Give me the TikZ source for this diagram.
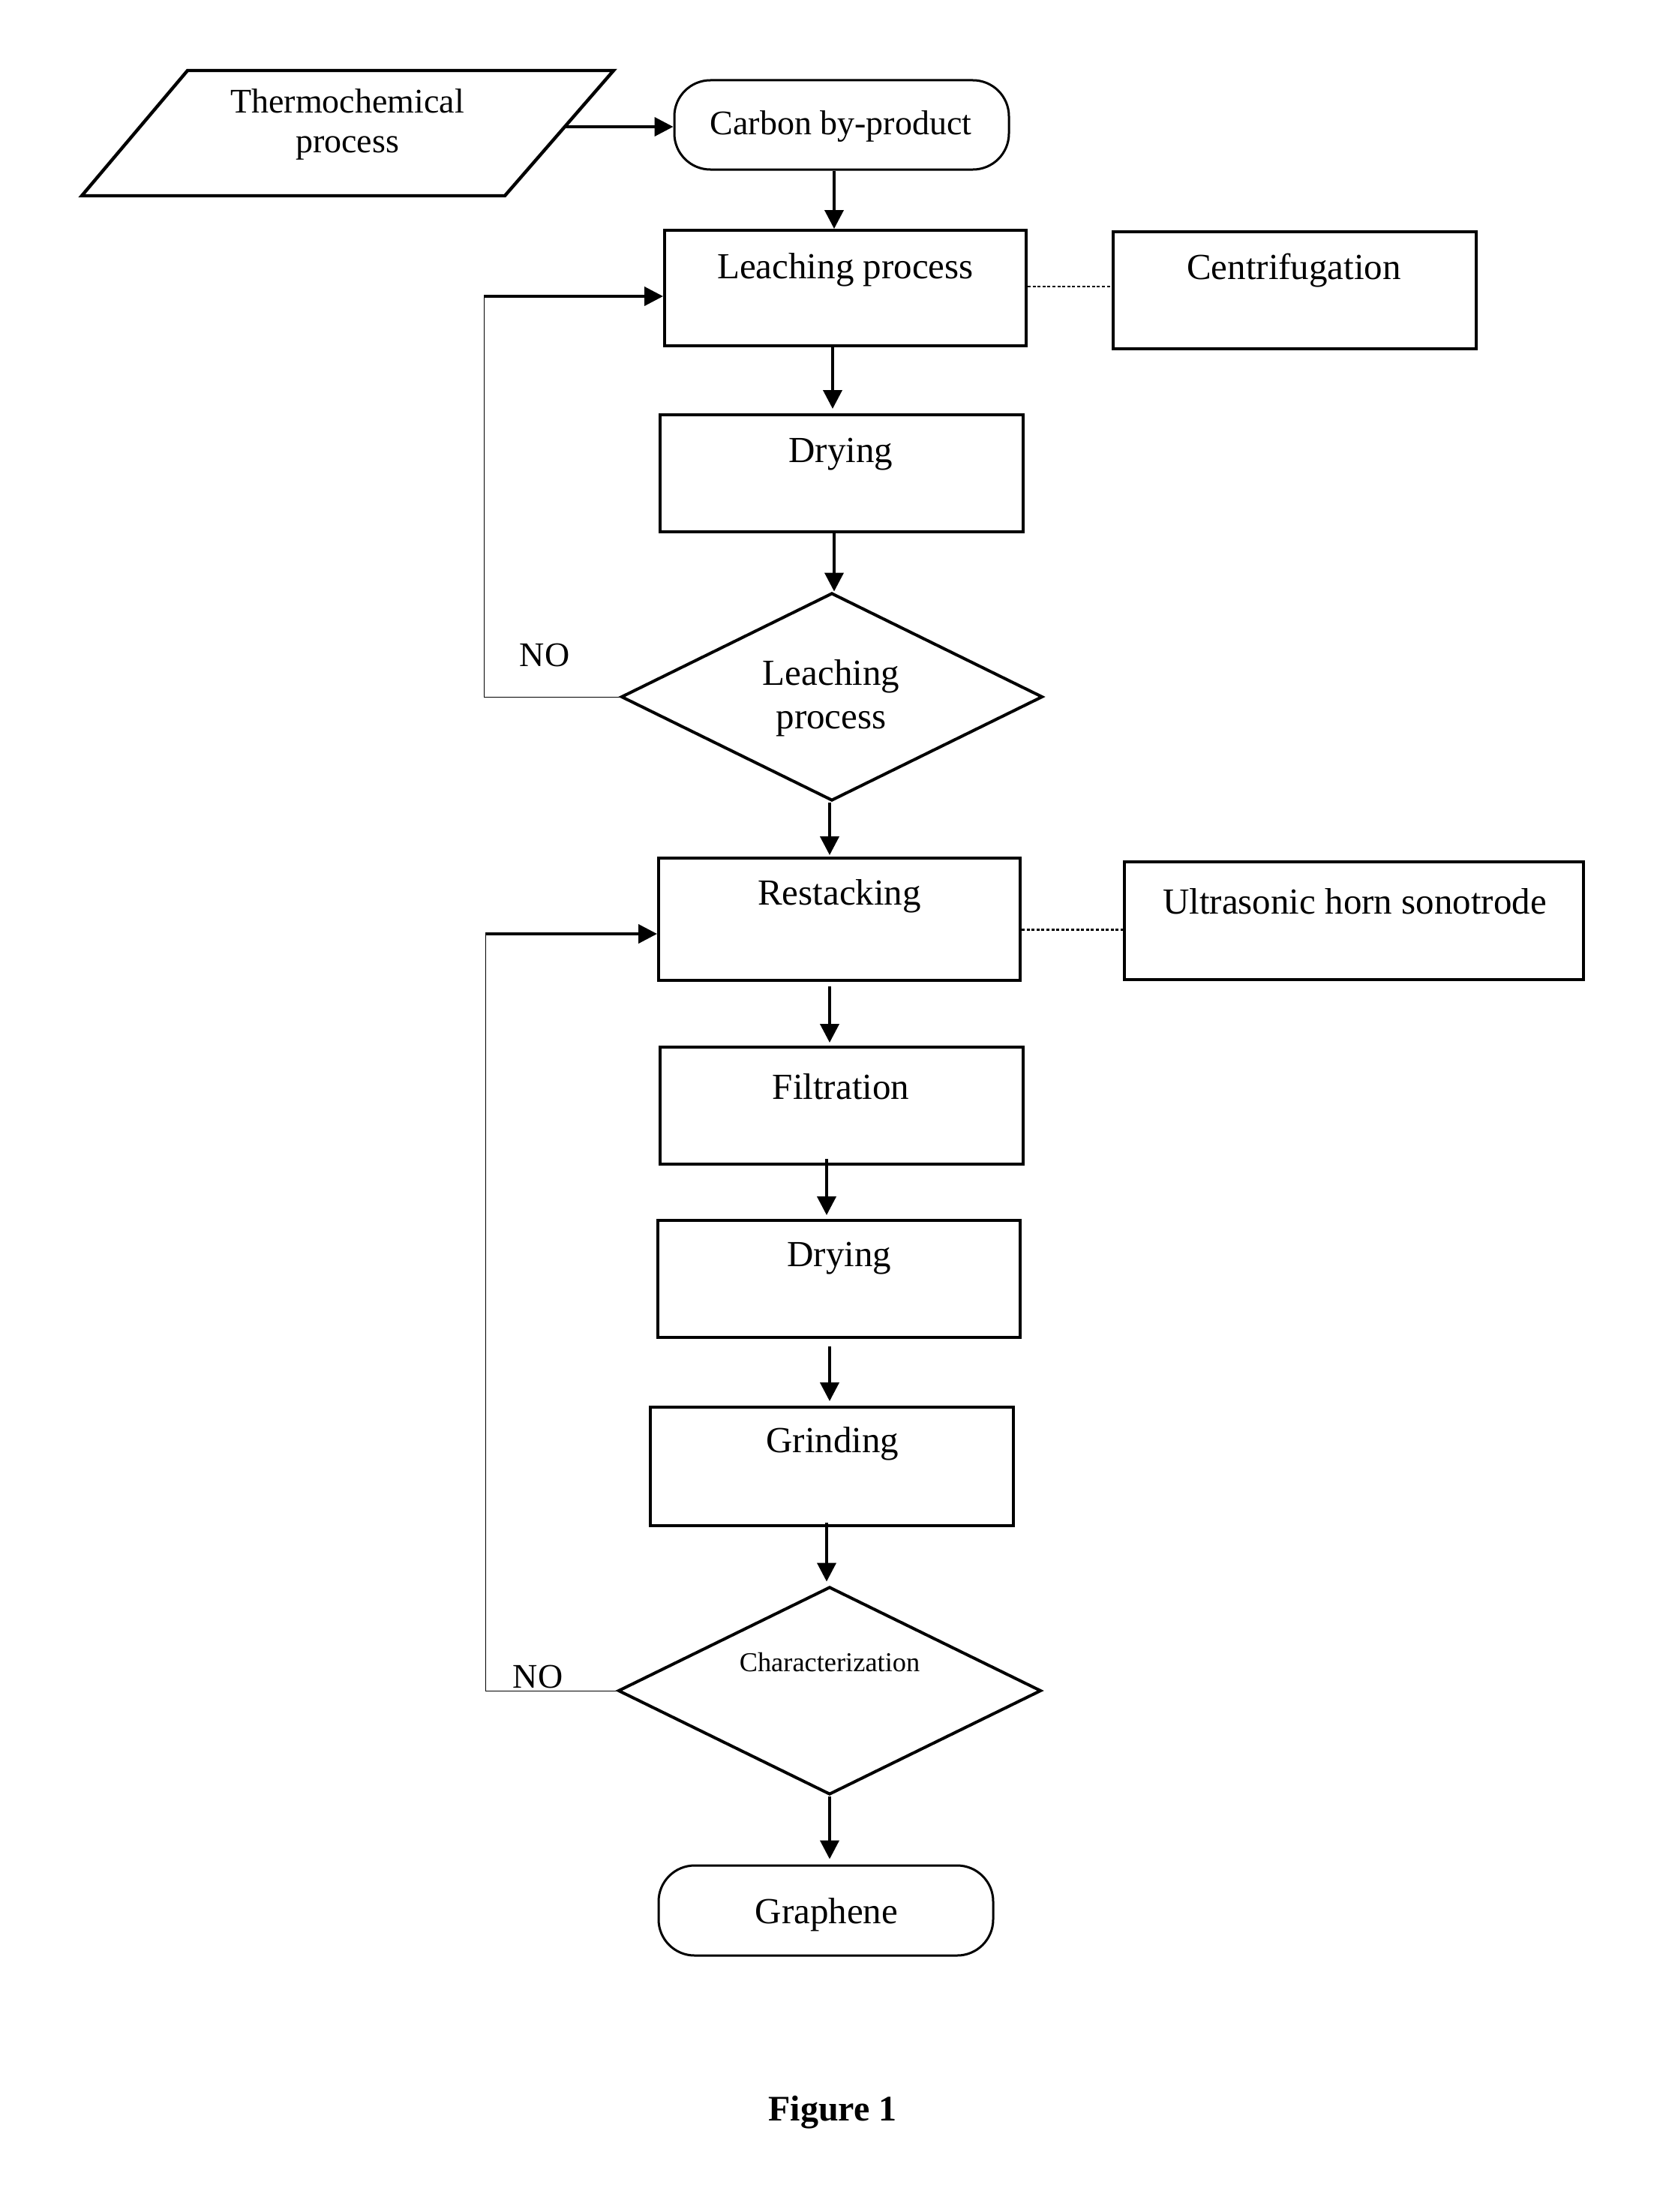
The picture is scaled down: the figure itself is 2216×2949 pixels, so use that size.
\documentclass[tikz,border=0pt]{standalone}
\usepackage{fontspec}
\setmainfont{Liberation Serif}
\usetikzlibrary{arrows.meta,shapes.geometric,calc}
\begin{document}
\begin{tikzpicture}[x=0.5pt,y=-0.5pt,
  box/.style={draw,line width=2pt,rectangle,inner sep=0pt},
  term/.style={draw,line width=1.5pt,rectangle,rounded corners=24pt,inner sep=0pt},
  dia/.style={draw,line width=2pt,diamond,inner sep=0pt},
  txt/.style={inner sep=0pt,yshift=-2pt,font=\fontsize{23}{28.5}\selectfont,align=center},
  bigtxt/.style={txt,font=\fontsize{24.5}{29}\selectfont},
  arr/.style={line width=2pt,-{Triangle[length=12.5pt,width=12.5pt]}},
  thinline/.style={line width=0.5pt},
  link/.style={line width=1.3pt,dash pattern=on 2pt off 1.3pt}]
\useasboundingbox (0,0) rectangle (2216,2949);

% input parallelogram
\draw[line width=2.2pt] (250,94) -- (818,94) -- (673,261) -- (109,261) -- cycle;
\node[txt,font=\fontsize{23}{26.5}\selectfont,yshift=0.5pt] (thermoT) at (463,163) {Thermochemical\\process};
\coordinate (thermoR) at (753,169);

% terminals
\node[term,minimum width=223pt,minimum height=59.5pt] (carbon) at (1122,166.5) {};
\node[txt] (carbonT) at (1121,165) {Carbon by-product};
\node[term,minimum width=223pt,minimum height=60pt] (graph) at (1101,2547) {};
\node[bigtxt] (graphT) at (1102,2549) {Graphene};

% boxes
\node[box,minimum width=241pt,minimum height=77pt] (leach) at (1127,384) {};
\node[bigtxt] (leachT) at (1127,356) {Leaching process};
\node[box,minimum width=242pt,minimum height=78pt] (centri) at (1726,387) {};
\node[bigtxt] (centriT) at (1725,357) {Centrifugation};
\node[box,minimum width=242pt,minimum height=78pt] (dry1) at (1122,631) {};
\node[bigtxt] (dry1T) at (1121,602) {Drying};

\node[dia,minimum width=281pt,minimum height=138.5pt] (dia1) at (1109,929) {};
\node[bigtxt] (dia1T) at (1108,927) {Leaching\\process};

\node[box,minimum width=241pt,minimum height=81.5pt] (restack) at (1119,1225.5) {};
\node[bigtxt] (restackT) at (1119,1191) {Restacking};
\node[box,minimum width=306pt,minimum height=78.5pt] (ultra) at (1805,1227.5) {};
\node[bigtxt] (ultraT) at (1806,1198) {Ultrasonic horn sonotrode};
\node[box,minimum width=242pt,minimum height=78pt] (filt) at (1122,1474) {};
\node[bigtxt] (filtT) at (1121,1445) {Filtration};
\node[box,minimum width=241.5pt,minimum height=78pt] (dry2) at (1118.5,1705) {};
\node[bigtxt] (dry2T) at (1119,1674) {Drying};
\node[box,minimum width=242pt,minimum height=79pt] (grind) at (1109,1955) {};
\node[bigtxt] (grindT) at (1110,1921) {Grinding};

\node[dia,minimum width=282pt,minimum height=138.5pt] (dia2) at (1106,2254) {};
\node[txt,font=\fontsize{18.2}{22}\selectfont,yshift=2pt] (dia2T) at (1106,2216) {Characterization};

% labels
\node[txt,yshift=2pt] (no1) at (726,873) {NO};
\node[txt,yshift=2pt] (no2) at (717,2235) {NO};
\node[txt,font=\bfseries\fontsize{24}{28}\selectfont] (fig) at (1110,2812) {Figure 1};

% main flow arrows
\draw[arr] (thermoR) -- (thermoR -| carbon.west);
\draw[arr] ([xshift=-5pt]carbon.south) -- ([xshift=-5pt]carbon.south |- leach.north);
\draw[arr] ([xshift=-8.5pt]leach.south) -- ([xshift=-8.5pt,yshift=3pt]leach.south |- dry1.north);
\draw[arr] ([xshift=-5pt]dry1.south) -- ([xshift=-5pt]dry1.south |- dia1.north);
\draw[arr] ([xshift=-1.5pt]dia1.south) -- ([xshift=-1.5pt,yshift=1pt]dia1.south |- restack.north);
\draw[arr] ([xshift=-6.5pt,yshift=-3pt]restack.south) -- ([xshift=-6.5pt,yshift=2pt]restack.south |- filt.north);
\draw[arr] ([xshift=-10pt,yshift=4.5pt]filt.south) -- ([xshift=-10pt,yshift=2.5pt]filt.south |- dry2.north);
\draw[arr] ([xshift=-6.25pt,yshift=-5pt]dry2.south) -- ([xshift=-6.25pt,yshift=3pt]dry2.south |- grind.north);
\draw[arr] ([xshift=-3.5pt,yshift=3pt]grind.south) -- ([xshift=-3.5pt,yshift=2.5pt]grind.south |- dia2.north);
\draw[arr] (dia2.south) -- ([yshift=3.5pt]dia2.south |- graph.north);

% feedback loops
\coordinate (loop1) at (645,929);
\coordinate (loop1t) at (645,395);
\draw[thinline] (dia1.west) -- (loop1) -- (loop1t);
\draw[arr] (loop1t) -- (loop1t -| leach.west);
\coordinate (loop2) at (647,2254);
\coordinate (loop2t) at (647,1245);
\draw[thinline] (dia2.west) -- (loop2) -- (loop2t);
\draw[arr] (loop2t) -- (loop2t -| restack.west);

% dotted links
\draw[link] ([yshift=1pt]leach.east) -- ([yshift=1pt]leach.east -| centri.west);
\draw[link] ([yshift=-7pt]restack.east) -- ([yshift=-7pt]restack.east -| ultra.west);
\end{tikzpicture}
\end{document}
